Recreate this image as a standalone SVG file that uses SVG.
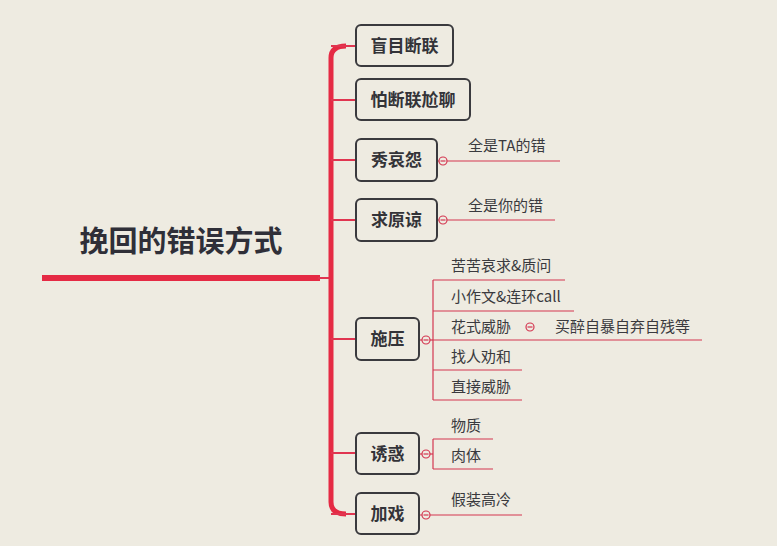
<svg xmlns="http://www.w3.org/2000/svg" width="777" height="546" viewBox="0 0 777 546">
<style>
.bg{fill:#eeebe1}
.box{fill:#eeebe1;stroke:#3a3a3e;stroke-width:2}
.nt{font-family:"Noto Sans CJK SC","Liberation Sans",sans-serif;font-size:17px;font-weight:bold;fill:#333338;text-anchor:middle}
.rt{font-family:"Noto Sans CJK SC","Liberation Sans",sans-serif;font-size:29px;font-weight:bold;fill:#2f2f38;text-anchor:middle}
.ct{font-family:"Noto Sans CJK SC","Liberation Sans",sans-serif;font-size:15px;fill:#3a3a3e}
.br{fill:none;stroke:#e03550;stroke-width:2}
.ln{fill:none;stroke:#d43650;stroke-width:1.2}
.tr{fill:none;stroke:#e52a44;stroke-width:5}
.cc{fill:#eeebe1;stroke:#d43650;stroke-width:1.2}
.mn{stroke:#d43650;stroke-width:1.2}
</style>
<rect class="bg" x="0" y="0" width="777" height="546"/>
<g id="connectors">
<line x1="42" y1="278" x2="320" y2="278" stroke="#e52a44" stroke-width="6"/>
<line class="br" x1="318" y1="278" x2="331" y2="278"/>
<path class="tr" d="M346 46 Q331 46 331 58 L331 502 Q331 514 346 514"/>
<line class="br" x1="331" y1="46" x2="356" y2="46"/>
<line class="br" x1="331" y1="100" x2="356" y2="100"/>
<line class="br" x1="331" y1="160" x2="356" y2="160"/>
<line class="br" x1="331" y1="220" x2="356" y2="220"/>
<line class="br" x1="331" y1="339" x2="356" y2="339"/>
<line class="br" x1="331" y1="453" x2="356" y2="453"/>
<line class="br" x1="331" y1="514" x2="356" y2="514"/>
<line class="ln" x1="437" y1="161" x2="560" y2="161"/>
<line class="ln" x1="437" y1="220" x2="555" y2="220"/>
<line class="ln" x1="419" y1="340" x2="433" y2="340"/>
<line class="ln" x1="433" y1="280" x2="433" y2="400"/>
<line class="ln" x1="433" y1="280" x2="565" y2="280"/>
<line class="ln" x1="433" y1="311" x2="574" y2="311"/>
<line class="ln" x1="433" y1="340" x2="702" y2="340"/>
<line class="ln" x1="433" y1="370" x2="522" y2="370"/>
<line class="ln" x1="433" y1="400" x2="522" y2="400"/>
<line class="ln" x1="419" y1="454" x2="433" y2="454"/>
<line class="ln" x1="433" y1="439" x2="433" y2="469"/>
<line class="ln" x1="433" y1="439" x2="493" y2="439"/>
<line class="ln" x1="433" y1="469" x2="493" y2="469"/>
<line class="ln" x1="419" y1="515" x2="522" y2="515"/>
<circle class="cc" cx="443" cy="161" r="4"/><line class="mn" x1="440.5" y1="161" x2="445.5" y2="161"/>
<circle class="cc" cx="443" cy="220" r="4"/><line class="mn" x1="440.5" y1="220" x2="445.5" y2="220"/>
<circle class="cc" cx="426" cy="340" r="4"/><line class="mn" x1="423.5" y1="340" x2="428.5" y2="340"/>
<circle class="cc" cx="530" cy="327" r="4"/><line class="mn" x1="527.5" y1="327" x2="532.5" y2="327"/>
<circle class="cc" cx="426" cy="454" r="4"/><line class="mn" x1="423.5" y1="454" x2="428.5" y2="454"/>
<circle class="cc" cx="426" cy="515" r="4"/><line class="mn" x1="423.5" y1="515" x2="428.5" y2="515"/>
</g>
<g id="root"><text class="rt" x="181" y="252">挽回的错误方式</text></g>
<g id="n1"><rect class="box" x="356" y="25" width="97" height="41" rx="5"/><text class="nt" x="404.5" y="51.5">盲目断联</text></g>
<g id="n2"><rect class="box" x="356" y="79" width="114" height="41" rx="5"/><text class="nt" x="413" y="105.5">怕断联尬聊</text></g>
<g id="n3"><rect class="box" x="356" y="139" width="81" height="42" rx="5"/><text class="nt" x="396.5" y="166">秀哀怨</text></g>
<g id="n4"><rect class="box" x="356" y="199" width="81" height="42" rx="5"/><text class="nt" x="396.5" y="226">求原谅</text></g>
<g id="n5"><rect class="box" x="356" y="318" width="63" height="42" rx="5"/><text class="nt" x="387.5" y="345">施压</text></g>
<g id="n6"><rect class="box" x="356" y="433" width="63" height="41" rx="5"/><text class="nt" x="387.5" y="459.5">诱惑</text></g>
<g id="n7"><rect class="box" x="356" y="493" width="63" height="41" rx="5"/><text class="nt" x="387.5" y="519.5">加戏</text></g>
<g id="c1"><text class="ct" x="468" y="151">全是TA的错</text></g>
<g id="c2"><text class="ct" x="468" y="211">全是你的错</text></g>
<g id="c3"><text class="ct" x="451" y="271">苦苦哀求&amp;质问</text></g>
<g id="c4"><text class="ct" x="451" y="302">小作文&amp;连环call</text></g>
<g id="c5"><text class="ct" x="451" y="332">花式威胁</text></g>
<g id="c6"><text class="ct" x="555" y="332">买醉自暴自弃自残等</text></g>
<g id="c7"><text class="ct" x="451" y="362">找人劝和</text></g>
<g id="c8"><text class="ct" x="451" y="392">直接威胁</text></g>
<g id="c9"><text class="ct" x="451" y="431">物质</text></g>
<g id="c10"><text class="ct" x="451" y="461">肉体</text></g>
<g id="c11"><text class="ct" x="451" y="505">假装高冷</text></g>
</svg>
